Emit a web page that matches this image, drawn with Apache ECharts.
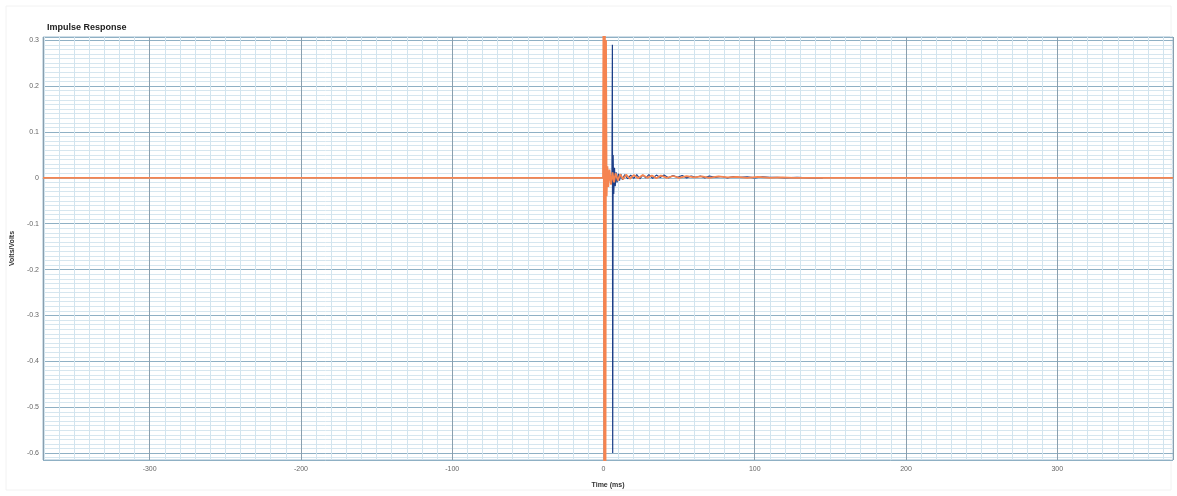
<!DOCTYPE html>
<html>
<head>
<meta charset="utf-8">
<script src="https://cdn.jsdelivr.net/npm/echarts@6/dist/echarts.min.js"></script>
<style>
html,body{margin:0;padding:0;background:#fff;}
#c{width:1177px;height:496px;}
</style>
</head>
<body>
<div id="c"></div>
<script>
// Blue trace (time in ms, value in Volts/Volts)
var blueT = [0, 5.6, 5.9, 6.1, 6.4, 6.8, 7.3, 7.8, 8.4, 9.0, 9.8, 10.6, 11.5, 12.5, 14, 16, 18, 20, 22, 24, 26, 28, 30, 32.5, 35, 37.5, 40, 43, 46, 49, 52, 55, 58, 61, 64, 67, 70, 74, 78, 82, 86, 90, 95, 100, 105, 110, 115, 120, 128, 136, 145];
var blueV = [0, 0.004, 0.29, -0.6, 0.05, -0.035, 0.022, -0.018, 0.012, -0.01, 0.009, -0.006, 0.008, -0.004, 0.007, -0.002, 0.006, -0.001, 0.007, -0.002, 0.006, 0.000, 0.007, -0.001, 0.006, 0.001, 0.006, 0.000, 0.005, 0.001, 0.005, 0.000, 0.004, 0.001, 0.004, 0.000, 0.004, 0.001, 0.003, 0.000, 0.003, 0.001, 0.002, 0.000, 0.002, 0.001, 0.001, 0.000, 0.001, 0.000, 0.000];
// Orange trace
var orangeT = [-370.5, -100.5, -100, -99.5, -0.3, 0.1, 0.5, 0.9, 1.3, 1.7, 2.1, 2.6, 3.2, 4, 5, 6, 7, 8, 9.5, 11, 13, 15, 17.5, 20, 23, 26, 29, 32, 35, 38, 42, 46, 50, 55, 60, 65, 70, 76, 82, 88, 95, 102, 110, 118, 126, 135, 145, 376.5];
var orangeV = [0, 0, 0.003, 0, 0, 0.5, -0.8, 0.5, -0.8, 0.3, -0.04, 0.025, -0.02, 0.018, -0.015, 0.012, -0.01, 0.01, -0.006, 0.008, -0.003, 0.007, -0.002, 0.006, -0.001, 0.006, 0.000, 0.005, -0.001, 0.005, 0.000, 0.004, 0.000, 0.004, 0.001, 0.003, 0.000, 0.003, 0.001, 0.002, 0.000, 0.002, 0.000, 0.001, 0.000, 0.000, 0, 0];

var xMin = -370.5, xMax = 376.5;
var yMin = -0.615, yMax = 0.307;

function pairs(t, v) { return t.map(function (x, i) { return [x, v[i]]; }); }

var chart = echarts.init(document.getElementById('c'), null, {renderer: 'canvas'});
chart.setOption({
  animation: false,
  backgroundColor: '#ffffff',
  title: {
    text: 'Impulse Response', left: 42, top: 18,
    textStyle: {fontSize: 9, fontWeight: 'bold', color: '#222', fontFamily: 'Liberation Sans'}
  },
  graphic: [{
    type: 'rect', shape: {x: 6, y: 6, width: 1165, height: 484},
    style: {fill: 'none', stroke: '#f2f2f2', lineWidth: 1}, silent: true
  }],
  grid: {left: 43, right: 4, top: 37, bottom: 36, show: true, borderColor: '#9fbdd0', borderWidth: 1},
  xAxis: {
    type: 'value', min: xMin, max: xMax, splitNumber: 7,
    name: 'Time (ms)', nameLocation: 'middle', nameGap: 22,
    nameTextStyle: {fontSize: 7, color: '#333', fontWeight: 'bold', fontFamily: 'Liberation Sans'},
    axisLine: {show: true, lineStyle: {color: '#9fbdd0'}},
    axisTick: {show: false},
    axisLabel: {fontSize: 7, color: '#666', margin: 6, showMinLabel: false, showMaxLabel: false, fontFamily: 'Liberation Sans'},
    splitLine: {show: true, lineStyle: {color: '#8a9fae', width: 1}},
    minorTick: {show: false, splitNumber: 10},
    minorSplitLine: {show: true, lineStyle: {color: '#d2e4ee', width: 1}}
  },
  yAxis: {
    type: 'value', min: yMin, max: yMax, splitNumber: 9,
    name: 'Volts/Volts', nameLocation: 'middle', nameGap: 20, nameRotate: 90,
    nameTextStyle: {fontSize: 7, color: '#333', fontWeight: 'bold', fontFamily: 'Liberation Sans'},
    axisLine: {show: true, lineStyle: {color: '#9fbdd0'}},
    axisTick: {show: false},
    axisLabel: {fontSize: 7, color: '#666', margin: 4, showMinLabel: false, showMaxLabel: false, fontFamily: 'Liberation Sans',
      formatter: function (v) { return String(Math.round(v * 10) / 10); }},
    splitLine: {show: true, lineStyle: {color: '#8fb0c4', width: 1}},
    minorTick: {show: false, splitNumber: 10},
    minorSplitLine: {show: true, lineStyle: {color: '#d6e6ef', width: 1}}
  },
  series: [
    {
      type: 'line', data: pairs(blueT, blueV), showSymbol: false, clip: true,
      lineStyle: {color: '#1d3f88', width: 1.2}, z: 3
    },
    {
      type: 'line', data: pairs(orangeT, orangeV), showSymbol: false, clip: true,
      lineStyle: {color: '#f58450', width: 1.8}, z: 4
    }
  ]
});
</script>
</body>
</html>
